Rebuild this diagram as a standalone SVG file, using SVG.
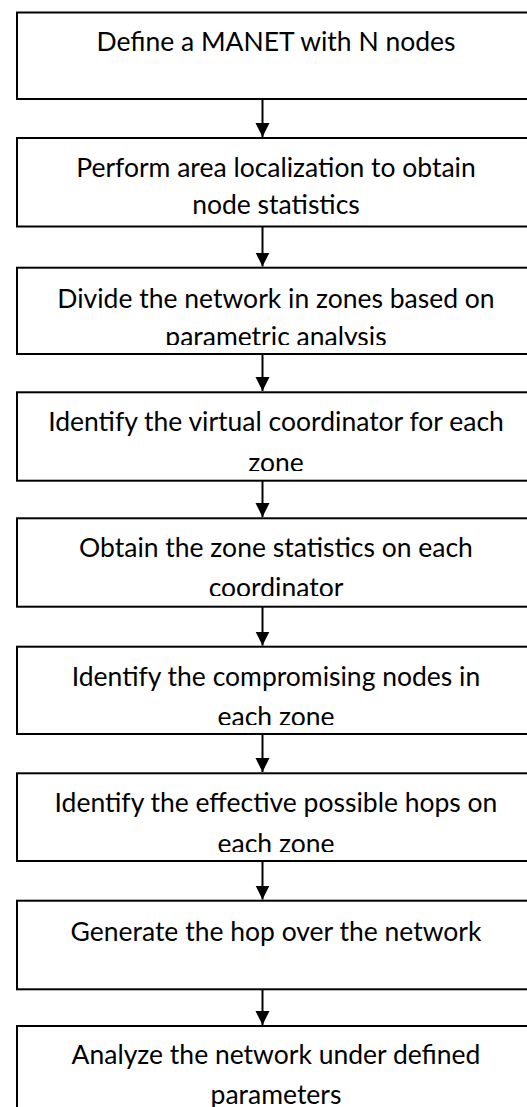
<svg xmlns="http://www.w3.org/2000/svg" width="527" height="1107" viewBox="0 0 527 1107">
  <style>
    .box { fill: #ffffff; stroke: #000000; stroke-width: 2; }
    .lbl { font-family: Lato, "Liberation Sans", sans-serif; font-size: 26.5px; fill: #000000; text-anchor: middle; }
    .edge { stroke: #000000; stroke-width: 2; fill: none; }
  </style>
  <defs>
    <marker id="arrow" viewBox="0 0 14 15" refX="14" refY="7" markerWidth="14" markerHeight="15" markerUnits="userSpaceOnUse" orient="auto">
      <path d="M0,0 L14,7 L0,14 Z" fill="#000000"/>
    </marker>
    <!-- text areas of the process boxes (text that overflows is cut off) -->
    <clipPath id="c1"><rect x="17" y="13" width="520" height="78"/></clipPath>
    <clipPath id="c2"><rect x="17" y="138" width="520" height="79"/></clipPath>
    <clipPath id="c3"><rect x="17" y="268" width="520" height="77"/></clipPath>
    <clipPath id="c4"><rect x="17" y="392" width="520" height="79"/></clipPath>
    <clipPath id="c5"><rect x="17" y="518" width="520" height="78"/></clipPath>
    <clipPath id="c6"><rect x="17" y="647" width="520" height="78"/></clipPath>
    <clipPath id="c7"><rect x="17" y="773" width="520" height="79"/></clipPath>
    <clipPath id="c8"><rect x="17" y="901" width="520" height="78"/></clipPath>
    <clipPath id="c9"><rect x="17" y="1026" width="520" height="81"/></clipPath>
  </defs>

  <g id="connectors">
    <line class="edge" x1="262.5" y1="99" x2="262.5" y2="137" marker-end="url(#arrow)"/>
    <line class="edge" x1="262.5" y1="227" x2="262.5" y2="266.5" marker-end="url(#arrow)"/>
    <line class="edge" x1="262.5" y1="352" x2="262.5" y2="391" marker-end="url(#arrow)"/>
    <line class="edge" x1="262.5" y1="479" x2="262.5" y2="517" marker-end="url(#arrow)"/>
    <line class="edge" x1="262.5" y1="607" x2="262.5" y2="645.5" marker-end="url(#arrow)"/>
    <line class="edge" x1="262.5" y1="732" x2="262.5" y2="772" marker-end="url(#arrow)"/>
    <line class="edge" x1="262.5" y1="861" x2="262.5" y2="899.5" marker-end="url(#arrow)"/>
    <line class="edge" x1="262.5" y1="988" x2="262.5" y2="1025" marker-end="url(#arrow)"/>
  </g>

  <g id="node1">
    <rect class="box" x="17" y="12.5" width="530" height="86.5"/>
    <g clip-path="url(#c1)">
      <text class="lbl" x="276" y="51">Define a MANET with N nodes</text>
    </g>
  </g>

  <g id="node2">
    <rect class="box" x="17" y="138" width="530" height="88.5"/>
    <g clip-path="url(#c2)">
      <text class="lbl" x="276" y="176.7">Perform area localization to obtain</text>
      <text class="lbl" x="276" y="213.7">node statistics</text>
    </g>
  </g>

  <g id="node3">
    <rect class="box" x="17" y="267.7" width="530" height="86.3"/>
    <g clip-path="url(#c3)">
      <text class="lbl" x="276" y="308">Divide the network in zones based on</text>
      <text class="lbl" x="276" y="346">parametric analysis</text>
    </g>
  </g>

  <g id="node4">
    <rect class="box" x="17" y="392.3" width="530" height="88.4"/>
    <g clip-path="url(#c4)">
      <text class="lbl" x="276" y="431">Identify the virtual coordinator for each</text>
      <text class="lbl" x="276" y="472">zone</text>
    </g>
  </g>

  <g id="node5">
    <rect class="box" x="17" y="518.3" width="530" height="88.4"/>
    <g clip-path="url(#c5)">
      <text class="lbl" x="276" y="557">Obtain the zone statistics on each</text>
      <text class="lbl" x="276" y="597">coordinator</text>
    </g>
  </g>

  <g id="node6">
    <rect class="box" x="17" y="646.7" width="530" height="87.3"/>
    <g clip-path="url(#c6)">
      <text class="lbl" x="276" y="686">Identify the compromising nodes in</text>
      <text class="lbl" x="276" y="726">each zone</text>
    </g>
  </g>

  <g id="node7">
    <rect class="box" x="17" y="773.3" width="530" height="87.7"/>
    <g clip-path="url(#c7)">
      <text class="lbl" x="276" y="812">Identify the effective possible hops on</text>
      <text class="lbl" x="276" y="853">each zone</text>
    </g>
  </g>

  <g id="node8">
    <rect class="box" x="17" y="900.7" width="530" height="88.6"/>
    <g clip-path="url(#c8)">
      <text class="lbl" x="276" y="941">Generate the hop over the network</text>
    </g>
  </g>

  <g id="node9">
    <rect class="box" x="17" y="1026" width="530" height="100"/>
    <g clip-path="url(#c9)">
      <text class="lbl" x="276" y="1064">Analyze the network under defined</text>
      <text class="lbl" x="276" y="1104">parameters</text>
    </g>
  </g>
</svg>
